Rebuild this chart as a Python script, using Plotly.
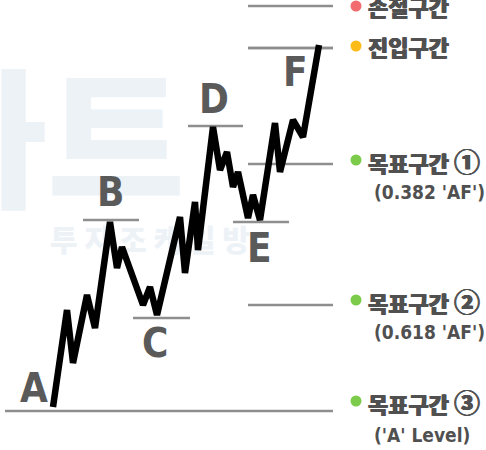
import plotly.graph_objects as go

W, H = 486, 450

# Price path (x, level); levels grow upward
path_x = [53, 67, 73, 87, 95, 110, 117, 122, 143, 150, 157, 180, 185, 195, 198,
          213, 220, 227, 233, 238, 248, 253, 260, 275, 280, 293, 303, 319]
path_y = [43, 140, 87, 155, 122, 228, 182, 203, 145, 163, 135, 233, 177, 248, 200,
          323, 280, 298, 263, 278, 232, 255, 230, 327, 278, 330, 313, 405]

# Swing points with their marker lines
swing_names = ["A", "B", "C", "D", "E", "F"]
swing_label_x = [34, 110, 155, 214, 259, 295]
swing_label_y = [62, 258, 107, 351, 202, 378]
swing_level = [39, 230, 132, 324, 228, 402]
swing_x0 = [5, 83, 133, 188, 233, 248]
swing_x1 = [333, 139, 190, 243, 289, 333]

# Zone lines on the right
zone_levels = [444, 402, 286, 145]
zone_x0, zone_x1 = 248, 333

# Zone labels
zone_titles = ["손절구간", "진입구간", "목표구간", "목표구간", "목표구간"]
zone_marks = ["", "", "①", "②", "③"]
zone_title_y = [444, 404, 290, 150, 49]
zone_dot_colors = ["#f26b6f", "#fdbb1a", "#7ccb4b", "#7ccb4b", "#7ccb4b"]
zone_notes = ["", "", "(0.382 'AF')", "(0.618 'AF')", "('A' Level)"]
zone_note_y = [0, 0, 258, 118, 15]

LINE_GRAY = "#8e8e8e"
TEXT_GRAY = "#505050"
WM = "#edf2f7"
COND = "DejaVu Sans Condensed, DejaVu Sans, sans-serif"
KR = "Noto Sans CJK KR Black, Noto Sans CJK KR, sans-serif"
HEAVY = f"0.6px 0 0 {TEXT_GRAY}, -0.6px 0 0 {TEXT_GRAY}"

fig = go.Figure()

# Faint watermark, kept beneath everything else
fig.add_trace(go.Scatter(x=[47], y=[292], mode="text", text=["<b>차트</b>"],
                         textfont=dict(family=KR, size=150, color=WM),
                         hoverinfo="skip", showlegend=False))
fig.add_trace(go.Scatter(x=[150], y=[207], mode="text", text=["투 자 조 케 일 방"],
                         textfont=dict(family=KR, size=30, color=WM),
                         hoverinfo="skip", showlegend=False))

# Swing marker lines
for lv, a, b in zip(swing_level, swing_x0, swing_x1):
    fig.add_trace(go.Scatter(x=[a, b], y=[lv, lv], mode="lines",
                             line=dict(color=LINE_GRAY, width=2.5),
                             hoverinfo="skip", showlegend=False))
for lv in zone_levels:
    fig.add_trace(go.Scatter(x=[zone_x0, zone_x1], y=[lv, lv], mode="lines",
                             line=dict(color=LINE_GRAY, width=2.5),
                             hoverinfo="skip", showlegend=False))

# Zigzag price path
fig.add_trace(go.Scatter(x=path_x, y=path_y, mode="lines",
                         line=dict(color="#000000", width=6.5),
                         hoverinfo="skip", showlegend=False))

# Swing letters
for name, lx, ly in zip(swing_names, swing_label_x, swing_label_y):
    fig.add_annotation(x=lx, y=ly, text=f"<b>{name}</b>", showarrow=False,
                       font=dict(family=COND, size=40, color="#5a5a5a"),
                       xanchor="center", yanchor="middle")

# Zone dots
fig.add_trace(go.Scatter(x=[356] * len(zone_title_y), y=zone_title_y, mode="markers",
                         marker=dict(color=zone_dot_colors, size=11),
                         hoverinfo="skip", showlegend=False))

# Zone titles, circled numbers and notes
for t, m, ty in zip(zone_titles, zone_marks, zone_title_y):
    txt = f"<b>{t}</b>"
    if m:
        txt += f" <span style='font-size:26px'><b>{m}</b></span>"
    fig.add_annotation(x=366, y=ty, text=txt, showarrow=False,
                       font=dict(family=KR, size=22, color=TEXT_GRAY, shadow=HEAVY),
                       xanchor="left", yanchor="middle")
for n, ny in zip(zone_notes, zone_note_y):
    if n:
        fig.add_annotation(x=372, y=ny, text=f"<b>{n}</b>", showarrow=False,
                           font=dict(family=COND, size=19, color=TEXT_GRAY),
                           xanchor="left", yanchor="middle")

fig.update_layout(
    width=W, height=H,
    margin=dict(l=0, r=0, t=0, b=0),
    paper_bgcolor="white", plot_bgcolor="white",
    xaxis=dict(range=[0, W], visible=False, fixedrange=True),
    yaxis=dict(range=[0, H], visible=False, fixedrange=True),
)

fig.write_html("out.html")
